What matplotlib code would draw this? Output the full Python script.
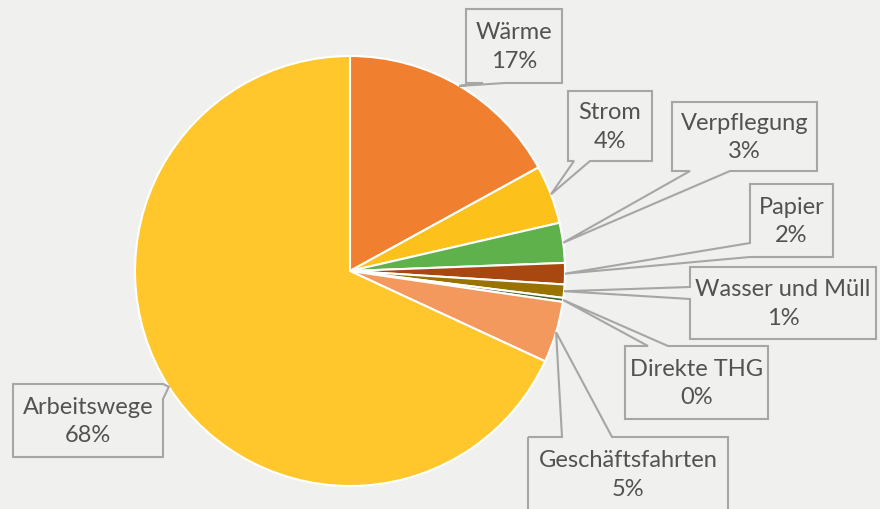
import numpy as np
import matplotlib.pyplot as plt
from matplotlib.patches import Polygon

plt.rcParams['font.family'] = ['Lato', 'DejaVu Sans']

# data
labels = ['Wärme', 'Strom', 'Verpflegung', 'Papier', 'Wasser und Müll',
          'Direkte THG', 'Geschäftsfahrten', 'Arbeitswege']
shares = [17.0, 4.4, 3.0, 1.6, 1.0, 0.3, 4.6, 68.1]
pct_labels = ['17%', '4%', '3%', '2%', '1%', '0%', '5%', '68%']
colors = ['#F07F30', '#FDC11C', '#5FB14C', '#A8470F', '#9A7200',
          '#43682B', '#F4995E', '#FFC72C']

BG = '#F0F0EE'
W, H = 880, 510
CX, CY, R = 350, 272, 215  # pie centre / radius in pixels


def to_data(px, py):
    return (px - CX) / R, (CY - py) / R


# callout boxes (pixels): left, top, right, bottom, pointer side, base start, base end
boxes = [
    (466, 10, 562, 84, 'bottom', 483, 505),
    (568, 92, 652, 162, 'bottom', 574, 590),
    (672, 103, 817, 172, 'bottom', 690, 730),
    (750, 185, 833, 258, 'left', 244, 258),
    (690, 268, 876, 340, 'left', 288, 300),
    (625, 347, 768, 420, 'top', 648, 668),
    (528, 438, 728, 512, 'top', 562, 612),
    (13, 385, 163, 458, 'right', 385, 400),
]

fig = plt.figure(figsize=(W / 100, H / 100), dpi=100, facecolor=BG)
ax = fig.add_axes([0, 0, 1, 1])
ax.set_facecolor(BG)

wedges, _ = ax.pie(shares, colors=colors, startangle=90, counterclock=False,
                   radius=1, center=(0, 0),
                   wedgeprops=dict(edgecolor='white', linewidth=1.5))

x0, y0 = to_data(0, H)
x1, y1 = to_data(W, 0)
ax.set_xlim(x0, x1)
ax.set_ylim(y0, y1)
ax.set_aspect('equal')
ax.axis('off')

for w, name, pct, box in zip(wedges, labels, pct_labels, boxes):
    l, t, r, b, side, b0, b1 = box
    mid = np.deg2rad((w.theta1 + w.theta2) / 2)
    tip = (np.cos(mid), np.sin(mid))
    if side == 'top':
        pts = [(l, t), (b0, t), None, (b1, t), (r, t), (r, b), (l, b)]
    elif side == 'bottom':
        pts = [(l, t), (r, t), (r, b), (b1, b), None, (b0, b), (l, b)]
    elif side == 'left':
        pts = [(l, t), (r, t), (r, b), (l, b), (l, b1), None, (l, b0)]
    else:
        pts = [(l, t), (r, t), (r, b0), None, (r, b1), (r, b), (l, b)]
    verts = [tip if p is None else to_data(*p) for p in pts]
    ax.add_patch(Polygon(verts, closed=True, fill=False, edgecolor='#A6A6A6',
                         linewidth=1.5, zorder=3))
    cx, cy = to_data((l + r) / 2, (t + b) / 2)
    ax.text(cx, cy, f'{name}\n{pct}', ha='center', va='center', fontsize=17,
            color='#525252', linespacing=1.45, zorder=4)

fig.savefig('out.png', dpi=100, facecolor=BG)
